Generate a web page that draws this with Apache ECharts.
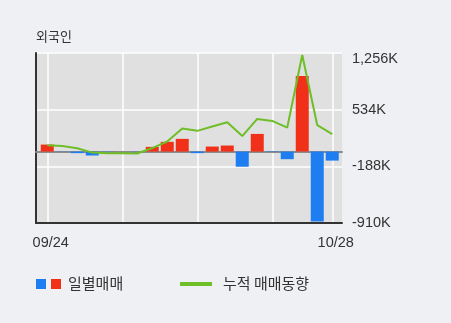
<!DOCTYPE html>
<html>
<head>
<meta charset="utf-8">
<script src="https://cdn.jsdelivr.net/npm/echarts@6/dist/echarts.min.js"></script>
<style>
html,body{margin:0;padding:0;background:#eef0f3;}
#c{width:451px;height:323px;}
</style>
</head>
<body>
<div id="c"></div>
<script>
// Data (thousand shares)
const categories = ['09/24','09/25','09/28','09/29','10/06','10/07','10/08','10/12','10/13','10/14',
                    '10/15','10/16','10/19','10/20','10/21','10/22','10/23','10/26','10/27','10/28'];
const dailyNet   = [89, -3, -20, -50, -3, 0, -2, 60, 124, 162, -20, 64, 77, -193, 225, -5, -97, 964, -891, -115];
const cumulative = [81, 72, 43, -13, -20, -20, -25, 45, 128, 293, 264, 319, 374, 198, 416, 391, 306, 1231, 336, 222];
const yTicks = [-910, -188, 534, 1256];

const RED = '#f03018', BLUE = '#1e7df0', GREEN = '#6ebe28', TXT = '#333';
const NUMFONT = "'Liberation Sans', Arial, sans-serif";
const KRFONT = "'Noto Sans CJK KR', sans-serif";
const yMin = yTicks[0], yMax = yTicks[yTicks.length - 1], yInt = yTicks[1] - yTicks[0];
const last = categories.length - 1;
const fmt = v => Math.round(v).toLocaleString('en-US') + 'K';

const chart = echarts.init(document.getElementById('c'), null, {renderer: 'canvas'});
chart.setOption({
  animation: false,
  backgroundColor: '#eef0f3',
  title: {
    text: '외국인', left: 36, top: 30, padding: 0,
    textStyle: {fontSize: 13, fontWeight: 'normal', color: TXT, fontFamily: KRFONT}
  },
  grid: [
    {left: 36, top: 53, width: 306, height: 170, show: true, backgroundColor: '#e0e0e0', borderWidth: 0},
    {left: 47.25, top: 53, width: 285, height: 170, show: false}
  ],
  xAxis: [
    {gridIndex: 0, type: 'value', min: 0, max: 1, position: 'bottom',
     axisLine: {show: true, onZero: false, lineStyle: {color: '#333', width: 2}},
     axisTick: {show: false}, axisLabel: {show: false}, splitLine: {show: false}},
    {gridIndex: 0, type: 'value', min: 0, max: 1, position: 'top',
     axisLine: {show: true, onZero: true, lineStyle: {color: '#8c8c8c', width: 2}},
     axisTick: {show: false}, axisLabel: {show: false}, splitLine: {show: false}},
    {gridIndex: 1, type: 'category', data: categories, boundaryGap: false,
     axisLine: {show: false}, axisTick: {show: false},
     axisLabel: {
       interval: (i) => i === 0 || i === last,
       color: TXT, fontSize: 14.5, margin: 12, padding: [0, 0, 0, 7],
       fontFamily: NUMFONT
     },
     splitLine: {show: true, interval: (i) => i % 5 === 0 || i === last,
                 lineStyle: {color: '#ffffff', width: 1.5}}}
  ],
  yAxis: [
    {gridIndex: 0, type: 'value', min: yMin, max: yMax, interval: yInt, position: 'left',
     axisLine: {show: true, onZero: false, lineStyle: {color: '#333', width: 2}},
     axisTick: {show: false}, axisLabel: {show: false},
     splitLine: {show: true, lineStyle: {color: '#ffffff', width: 1.5}}},
    {gridIndex: 0, type: 'value', min: yMin, max: yMax, interval: yInt, position: 'right',
     axisLine: {show: false}, axisTick: {show: false}, splitLine: {show: false},
     axisLabel: {
       margin: 10, color: TXT, fontSize: 14.5, fontFamily: NUMFONT,
       formatter: v => Math.abs(v - yMax) < 1e-6 ? '{top|' + fmt(v) + '}' : fmt(v),
       rich: {top: {padding: [12, 0, 0, 0], fontSize: 14.5, color: TXT, fontFamily: NUMFONT}}
     }},
    {gridIndex: 1, type: 'value', min: yMin, max: yMax, interval: yInt, show: false}
  ],
  series: [
    {type: 'bar', name: '일별매매', xAxisIndex: 2, yAxisIndex: 2, data: dailyNet,
     barWidth: 13, clip: false, z: 2,
     itemStyle: {color: p => p.value >= 0 ? RED : BLUE}},
    {type: 'line', name: '누적 매매동향', xAxisIndex: 2, yAxisIndex: 2, data: cumulative,
     symbol: 'none', clip: false, z: 3,
     lineStyle: {color: GREEN, width: 2}, itemStyle: {color: GREEN}}
  ],
  graphic: [
    {type: 'rect', left: 36, top: 279, shape: {width: 10, height: 10}, style: {fill: BLUE}},
    {type: 'rect', left: 51, top: 279, shape: {width: 10, height: 10}, style: {fill: RED}},
    {type: 'text', left: 68, top: 275.5, style: {text: '일별매매', fontSize: 15, fill: TXT, fontFamily: KRFONT}},
    {type: 'rect', left: 180, top: 282, shape: {width: 32, height: 4}, style: {fill: GREEN}},
    {type: 'text', left: 223, top: 275.5, style: {text: '누적 매매동향', fontSize: 15, fill: TXT, fontFamily: KRFONT}}
  ]
});
</script>
</body>
</html>
